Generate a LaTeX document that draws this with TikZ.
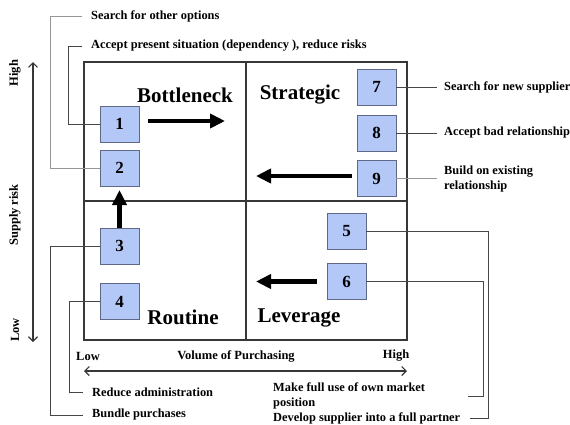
\documentclass[tikz,border=0pt]{standalone}
\usepackage{fontspec}
\setmainfont{Liberation Serif}
\usetikzlibrary{arrows.meta}
\usetikzlibrary{calc}
\definecolor{boxblue}{RGB}{180,200,248}
\definecolor{boxedge}{RGB}{95,105,135}
\definecolor{framegray}{RGB}{55,55,55}
\definecolor{linegray}{RGB}{70,70,70}
\definecolor{lightline}{RGB}{150,150,150}

\begin{document}
\begin{tikzpicture}[x=1pt,y=-1pt]

\tikzset{num-box/.style={draw=boxedge, fill=boxblue, minimum width=39pt, minimum height=36pt,
                         inner sep=0pt, font=\fontsize{17}{17}\selectfont\bfseries},
         quad-title/.style={font=\fontsize{21}{21}\selectfont\bfseries},
         note/.style={anchor=west, inner sep=0pt, align=left,
                      font=\fontsize{12.4}{15}\selectfont\bfseries},
         axis-label/.style={font=\fontsize{12.5}{12.5}\selectfont\bfseries},
         conn/.style={draw=linegray, line width=0.8pt},
         big-arrow/.style={line width=4.5pt, -{Triangle[length=15pt,width=14pt]}}}

\useasboundingbox (0,0) rectangle (570,424);

\draw[framegray, line width=1.6pt] (84,62) rectangle (407,340);
\draw[framegray, line width=1.6pt] (246,62) -- (246,340);
\draw[framegray, line width=1.6pt] (84,201) -- (407,201);

\node[quad-title] (bottleneck) at (185,95) {Bottleneck};
\node[quad-title] (strategic) at (300,95) {Strategic};
\node[quad-title] (routine) at (183,317) {Routine};
\node[quad-title] (leverage) at (299,318) {Leverage};

\node[num-box] (b1) at (119.5,124) {1};
\node[num-box] (b2) at (119.5,168) {2};
\node[num-box] (b3) at (119.5,246) {3};
\node[num-box] (b4) at (119.5,301.5) {4};
\node[num-box] (b5) at (346.5,231.5) {5};
\node[num-box] (b6) at (346.5,281.5) {6};
\node[num-box] (b7) at (376.5,87) {7};
\node[num-box] (b8) at (376.5,133) {8};
\node[num-box] (b9) at (376.5,178.5) {9};

\coordinate (a1) at (225,121);
\coordinate (a3) at (119.5,190);
\coordinate (a6) at (256,281.5);
\coordinate (a9) at (256,176);
\draw[big-arrow] ([xshift=9pt]b1.east |- a1) -- (a1);
\draw[big-arrow] (b3.north) -- (a3);
\draw[big-arrow] ([xshift=-10pt]b6.west) -- (a6);
\draw[big-arrow] ([xshift=-5pt]b9.west |- a9) -- (a9);

\node[note] (t-other) at (91,16) {Search for other options};
\node[note] (t-accept) at (91,46) {Accept present situation (dependency ), reduce risks};
\node[note] (t-admin) at (92,392) {Reduce administration};
\node[note] (t-bundle) at (92,415) {Bundle purchases};
\node[note] (t-new) at (444,87) {Search for new supplier};
\node[note] (t-bad) at (444,133) {Accept bad relationship};
\node[note] (t-build) at (444,179.5) {Build on existing\\relationship};
\node[note] (t-market) at (273,396) {Make full use of own market\\position};
\node[note] (t-develop) at (273,418.5) {Develop supplier into a full partner};

\draw[conn, draw=lightline] ([xshift=-9pt]t-other.west) -- ++(-32,0) |- (b2.west);
\draw[conn] ([xshift=-9pt]t-accept.west) -- ++(-14,0) |- (b1.west);
\draw[conn] (b3.west) -| ([xshift=-42pt]t-bundle.west) -- ([xshift=-9pt]t-bundle.west);
\draw[conn] (b4.west) -| ([xshift=-23pt]t-admin.west) -- ([xshift=-9pt]t-admin.west);
\draw[conn] (b7.east) -- ([xshift=-7pt]t-new.west);
\draw[conn] (b8.east) -- ([xshift=-7pt]t-bad.west);
\draw[conn, draw=lightline] (b9.east) -- ($(b9.east -| t-build.west)+(-7,0)$);

\coordinate (e5) at (470,418);
\coordinate (e6) at (468,396);
\draw[conn] (b5.east) -| ([xshift=18pt]e5) -- (e5);
\draw[conn] (b6.east) -| ([xshift=15pt]e6) -- (e6);

\draw[{Straight Barb[length=4.5pt]}-{Straight Barb[length=4.5pt]}, framegray, line width=1.1pt] (33,62) -- (33,342);
\node[axis-label, rotate=90] (risk-high) at (15,73) {High};
\node[axis-label, rotate=90] (risk) at (15,215) {Supply risk};
\node[axis-label, rotate=90] (risk-low) at (15,330) {Low};

\draw[{Straight Barb[length=4.5pt]}-{Straight Barb[length=4.5pt]}, framegray, line width=1.1pt] (84,371) -- (407,371);
\node[axis-label] (vol-low) at (88,356) {Low};
\node[axis-label] (vol) at (236,356) {Volume of Purchasing};
\node[axis-label] (vol-high) at (396,356) {High};

\end{tikzpicture}
\end{document}
